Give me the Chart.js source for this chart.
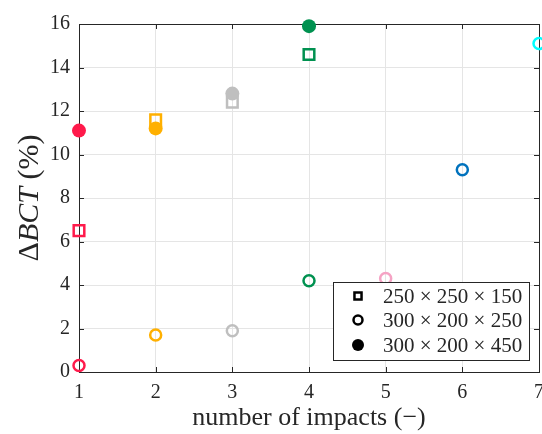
<!DOCTYPE html>
<html>
<head>
<meta charset="utf-8">
<script src="https://cdn.jsdelivr.net/npm/chart.js@4/dist/chart.umd.min.js"></script>
<style>
  html, body { margin: 0; padding: 0; background: #fff; }
  #wrap { width: 542px; height: 434px; }
</style>
</head>
<body>
<div id="wrap"><canvas id="impactChart"></canvas></div>
<script>
// data
const impacts = [1, 2, 3, 4, 5, 6, 7]
const impactColors = ['#FF1A4B', '#FFB000', '#BFBFBF', '#009150', '#F5A3C4', '#0072BD', '#00FFFF']
const squareVals = [6.5, 11.6, 12.4, 14.6]
const openVals = [0.3, 1.7, 1.9, 4.2, 4.3, 9.3, 15.1]
const filledVals = [11.1, 11.2, 12.8, 15.9]
const legendLabels = ['250 × 250 × 150', '300 × 200 × 250', '300 × 200 × 450']
const xTicks = [1, 2, 3, 4, 5, 6, 7]
const yTicks = [0, 2, 4, 6, 8, 10, 12, 14, 16]

const serif = '"Liberation Serif", "DejaVu Serif", serif'
const ink = '#262626'

const toPoints = vals => vals.map((v, i) => ({ x: impacts[i], y: v }))
const colorsFor = vals => vals.map((v, i) => impactColors[i])

// box, inward ticks, y title and the legend
const decorations = {
    id: 'decorations',
    beforeDatasetsDraw(chart) {
        const { ctx, chartArea: a, scales } = chart
        ctx.save()
        ctx.strokeStyle = ink
        ctx.lineWidth = 1
        const t = 5
        ctx.beginPath()
        xTicks.forEach(v => {
            const px = Math.round(scales.x.getPixelForValue(v)) + 0.5
            ctx.moveTo(px, a.bottom); ctx.lineTo(px, a.bottom - t)
            ctx.moveTo(px, a.top); ctx.lineTo(px, a.top + t)
        })
        yTicks.forEach(v => {
            const py = Math.round(scales.y.getPixelForValue(v)) + 0.5
            ctx.moveTo(a.left, py); ctx.lineTo(a.left + t, py)
            ctx.moveTo(a.right, py); ctx.lineTo(a.right - t, py)
        })
        ctx.stroke()
        ctx.strokeRect(Math.round(a.left) + 0.5, Math.round(a.top) + 0.5,
            Math.round(a.right - a.left), Math.round(a.bottom - a.top))
        ctx.restore()

        // y title: Δ upright, BCT italic
        const parts = [['Δ', 'normal'], ['BCT', 'italic'], [' (%)', 'normal']]
        const size = 30
        ctx.save()
        ctx.fillStyle = ink
        ctx.textBaseline = 'middle'
        let total = 0
        parts.forEach(p => { ctx.font = p[1] + ' ' + size + 'px ' + serif; total += ctx.measureText(p[0]).width })
        ctx.translate(30, (a.top + a.bottom) / 2)
        ctx.rotate(-Math.PI / 2)
        let x = -total / 2
        parts.forEach(p => {
            ctx.font = p[1] + ' ' + size + 'px ' + serif
            ctx.fillText(p[0], x, 0)
            x += ctx.measureText(p[0]).width
        })
        ctx.restore()
    },
    afterDatasetsDraw(chart) {
        const { ctx } = chart
        const box = { l: 333, t: 282, r: 529, b: 360 }
        ctx.save()
        ctx.fillStyle = '#fff'
        ctx.fillRect(box.l, box.t, box.r - box.l, box.b - box.t)
        ctx.strokeStyle = ink
        ctx.lineWidth = 1
        ctx.strokeRect(box.l + 0.5, box.t + 0.5, box.r - box.l, box.b - box.t)
        const rows = [296, 320, 345]
        const marks = [
            { pointStyle: 'rect', radius: 5, borderWidth: 2.5, fill: '#fff' },
            { pointStyle: 'circle', radius: 4.5, borderWidth: 2.5, fill: '#fff' },
            { pointStyle: 'circle', radius: 6, borderWidth: 0, fill: '#000' }
        ]
        rows.forEach((y, i) => {
            ctx.fillStyle = marks[i].fill
            ctx.strokeStyle = '#000'
            ctx.lineWidth = marks[i].borderWidth
            Chart.helpers.drawPoint(ctx, { pointStyle: marks[i].pointStyle, radius: marks[i].radius, rotation: 0, borderWidth: marks[i].borderWidth }, 358, y)
            ctx.fillStyle = ink
            ctx.font = '21px ' + serif
            ctx.textBaseline = 'middle'
            ctx.fillText(legendLabels[i], 383, y + 1)
        })
        ctx.restore()
    }
}

new Chart(document.getElementById('impactChart'), {
    type: 'scatter',
    data: {
        datasets: [
            {
                label: legendLabels[2],
                data: toPoints(filledVals),
                pointStyle: 'circle',
                pointRadius: 7,
                pointHoverRadius: 7,
                borderWidth: 0,
                backgroundColor: colorsFor(filledVals),
                borderColor: colorsFor(filledVals)
            },
            {
                label: legendLabels[0],
                data: toPoints(squareVals),
                pointStyle: 'rect',
                pointRadius: 7.5,
                pointHoverRadius: 7.5,
                borderWidth: 2.5,
                backgroundColor: 'rgba(255,255,255,0)',
                borderColor: colorsFor(squareVals)
            },
            {
                label: legendLabels[1],
                data: toPoints(openVals),
                pointStyle: 'circle',
                pointRadius: 5.5,
                pointHoverRadius: 5.5,
                borderWidth: 2.5,
                backgroundColor: 'rgba(255,255,255,0)',
                borderColor: colorsFor(openVals)
            }
        ]
    },
    options: {
        responsive: true,
        maintainAspectRatio: false,
        animation: false,
        clip: false,
        layout: { autoPadding: false, padding: { top: 24, right: 3, left: 0, bottom: 0 } },
        plugins: {
            legend: { display: false },
            tooltip: { enabled: false }
        },
        scales: {
            x: {
                type: 'linear',
                min: 1,
                max: 7,
                afterBuildTicks: s => { s.ticks = xTicks.map(v => ({ value: v })) },
                afterFit: s => { s.height = 62; s.paddingLeft = 0; s.paddingRight = 0 },
                grid: { color: '#e5e5e5', tickLength: 0, drawTicks: false },
                border: { display: false },
                ticks: { color: ink, padding: 9, font: { family: serif, size: 20 } },
                title: {
                    display: true,
                    text: 'number of impacts (−)',
                    color: ink,
                    font: { family: serif, size: 26 },
                    padding: { top: 3, bottom: 0 }
                }
            },
            y: {
                type: 'linear',
                min: 0,
                max: 16,
                afterBuildTicks: s => { s.ticks = yTicks.map(v => ({ value: v })) },
                afterFit: s => { s.width = 79; s.paddingTop = 0; s.paddingBottom = 0 },
                grid: { color: '#e5e5e5', tickLength: 0, drawTicks: false },
                border: { display: false },
                ticks: { color: ink, padding: 9, font: { family: serif, size: 20 } }
            }
        }
    },
    plugins: [decorations]
})
</script>
</body>
</html>
